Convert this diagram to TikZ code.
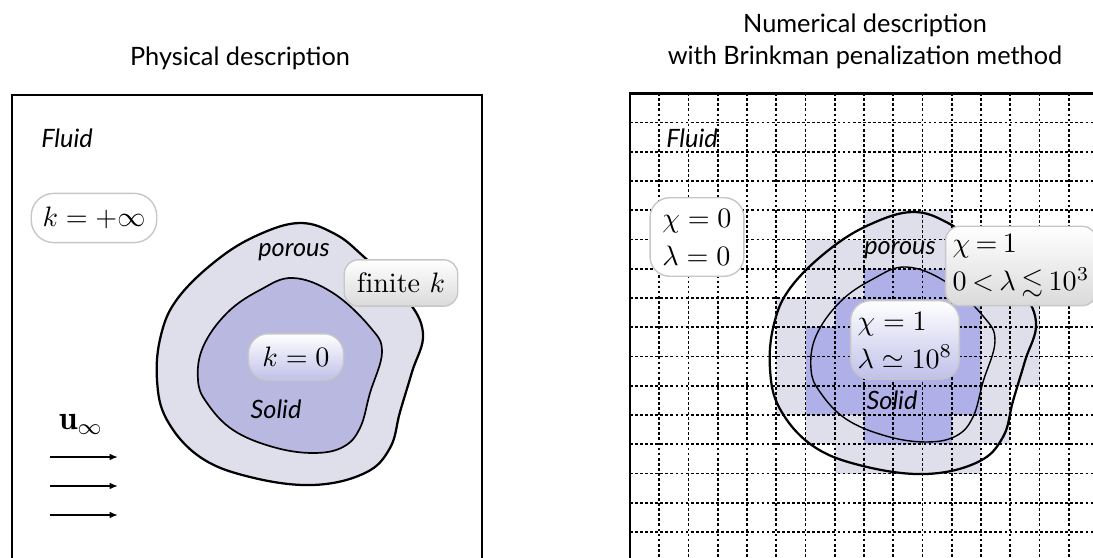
\documentclass[tikz,border=0pt]{standalone}
\usepackage{amsmath}
\usepackage{amssymb}
\usepackage{fontspec}
\newfontfamily\descfont{Lato}
\usepackage{tikz}
\usetikzlibrary{positioning, arrows.meta}

\definecolor{porousfill}{RGB}{223,223,236}
\definecolor{solidfill}{RGB}{184,184,225}
\definecolor{solidcell}{RGB}{176,176,233}
\definecolor{taggray}{RGB}{218,218,218}
\definecolor{tagblue}{RGB}{192,192,234}

% body outlines, in picture units (y grows downwards)
\newcommand{\outerblob}[1]{%
  \draw[#1] plot[smooth cycle, tension=0.65] coordinates {
    (300,223) (335,234) (363,256) (405,297) (423,333) (412,372) (400,412)
    (390,448) (365,473) (313,485) (250,477) (200,457) (167,420) (157,380)
    (161,335) (178,298) (217,260) (258,235)};}
\newcommand{\innerblob}[1]{%
  \draw[#1] plot[smooth cycle, tension=0.65] coordinates {
    (293,278) (333,293) (370,327) (382,352) (370,393) (360,428) (343,447)
    (313,453) (273,447) (233,430) (207,403) (198,380) (203,347) (227,313)
    (260,290)};}

\begin{document}
\begin{tikzpicture}[x=0.125mm, y=-0.125mm,
    boxline/.style={line width=1pt},
    gridline/.style={line width=0.6pt, dash pattern=on 1pt off 0.8pt},
    headtext/.style={font=\descfont\fontsize{9}{11}\selectfont, anchor=base},
    zonetext/.style={font=\descfont\itshape\fontsize{9}{11}\selectfont},
    tagbox/.style={draw=black!22, line width=0.5pt, rounded corners=#1,
      inner xsep=4pt, inner ysep=4pt},
    flowarrow/.style={line width=0.6pt, -{Latex[length=3pt, width=2.4pt]}}]

  \useasboundingbox (0,0) rectangle (1093,558);
  \clip (0,0) rectangle (1093,558);

  % Titles
  \node[headtext] (physhead)  at (240,66) {Physical description};
  \node[headtext] (numhead)   at (865,33) {Numerical description};
  \node[headtext] (brinkhead) at (865,65) {with Brinkman penalization method};

  % ---------------- physical description ----------------
  \outerblob{fill=porousfill, line width=0.8pt}
  \innerblob{fill=solidfill, line width=0.6pt}
  \draw[boxline] (12,95) rectangle (482,620);

  \node[zonetext] (fluidL)  at (67,138)  {Fluid};
  \node[zonetext] (porousL) at (294,252) {porous};
  \node[zonetext] (solidL)  at (276,409) {Solid};

  \node[tagbox=8pt, fill=white, minimum height=17.5pt] (kinf) at (94,218) {$k=+\infty$};
  \node[tagbox=5pt, top color=white, bottom color=taggray, minimum height=16.5pt,
    inner xsep=4.5pt] (kfinite) at (401,283) {$\mathrm{finite}\ k$};
  \node[tagbox=7pt, top color=white, bottom color=tagblue, minimum height=16.5pt,
    inner xsep=5pt] (kzero) at (296,357) {$k=0$};

  % free stream
  \node[font=\large] (uinf) at (81,424) {$\mathbf{u}_\infty$};
  \foreach \y [count=\i] in {457,486,515} {
    \coordinate (flow\i s) at (50,\y);
    \coordinate (flow\i e) at (118,\y);
    \draw[flowarrow] (flow\i s) -- (flow\i e);
  }

  % ---------------- numerical description ----------------
  % penalized cells
  \foreach \c/\r in {8/4,9/4,10/4, 6/5,7/5,8/5,9/5,10/5,11/5,12/5,
      6/6,7/6,11/6,12/6, 5/7,6/7,12/7,13/7, 5/8,12/8,13/8, 5/9,12/9,13/9,
      5/10,12/10, 6/11,7/11,11/11,12/11, 7/12,8/12,9/12,10/12,11/12}
    \fill[porousfill] ({630+29.25*\c},{93.3+29.25*\r}) rectangle +(29.25,29.25);
  \foreach \c/\r in {8/6,9/6,10/6, 7/7,8/7,9/7,10/7,11/7,
      6/8,7/8,8/8,9/8,10/8,11/8, 6/9,7/9,8/9,9/9,10/9,11/9,
      6/10,7/10,8/10,9/10,10/10,11/10, 8/11,9/11,10/11}
    \fill[solidcell] ({630+29.25*\c},{93.3+29.25*\r}) rectangle +(29.25,29.25);

  % mesh
  \foreach \i in {1,...,15} {
    \draw[gridline] ({630+29.25*\i},93.3) -- ({630+29.25*\i},570);
    \draw[gridline] (630,{93.3+29.25*\i}) -- (1100,{93.3+29.25*\i});
  }

  \begin{scope}[shift={(613,-11)}]
    \outerblob{line width=0.8pt}
    \innerblob{line width=0.5pt}
  \end{scope}
  \draw[boxline] (630,93.3) rectangle (1098,620);

  \node[zonetext] (fluidR)  at (692,138) {Fluid};
  \node[zonetext] (porousR) at (900,250) {porous};
  \node[zonetext] (solidR)  at (892,400) {Solid};

  \node[tagbox=7pt, fill=white, align=left, inner xsep=4.4pt] (chifluid)
    at (697,237) {$\chi=0$\\[1.5pt]$\lambda=0$};
  \node[tagbox=5pt, top color=white, bottom color=taggray, align=left,
    inner xsep=2.5pt, inner ysep=3pt, execute at begin node={\thickmuskip=3.5mu}]
    (chiporous) at (1021,266) {$\chi=1$\\[1.5pt]$0<\lambda\lesssim10^3$};
  \node[tagbox=7pt, top color=white, bottom color=tagblue, align=left,
    inner xsep=2.5pt] (chisolid)
    at (905,340) {$\chi=1$\\[1.5pt]$\lambda\simeq10^8$};
\end{tikzpicture}
\end{document}
